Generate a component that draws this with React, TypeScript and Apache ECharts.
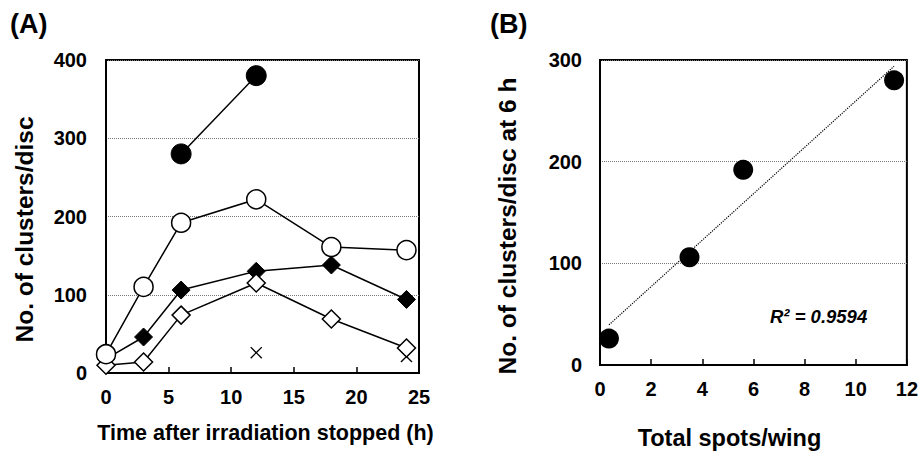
import React, { useEffect, useRef } from "react";
import * as echarts from "echarts";

// Panel A: time after irradiation stopped (h)
const hoursFilledCircle = [6, 12];
const valuesFilledCircle = [280, 380];
const hoursSeries = [0, 3, 6, 12, 18, 24];
const valuesOpenCircle = [24, 110, 192, 222, 161, 157];
const valuesFilledDiamond = [18, 46, 106, 130, 138, 94];
const valuesOpenDiamond = [10, 14, 74, 115, 69, 32];
const hoursCross = [12, 24];
const valuesCross = [26, 21];

// Panel B
const spotsPerWing = [0.35, 3.5, 5.6, 11.5];
const clustersAt6h = [26, 106, 192, 280];
const r2Label = "R\u00b2 = 0.9594";

const FONT = '"Liberation Sans", Arial, Helvetica, sans-serif';

const pairs = (xs: number[], ys: number[]) => xs.map((x, i) => [x, ys[i]]);

function regression(xs: number[], ys: number[]) {
  const n = xs.length;
  const mx = xs.reduce((a, b) => a + b, 0) / n;
  const my = ys.reduce((a, b) => a + b, 0) / n;
  let sxy = 0;
  let sxx = 0;
  for (let i = 0; i < n; i++) {
    sxy += (xs[i] - mx) * (ys[i] - my);
    sxx += (xs[i] - mx) * (xs[i] - mx);
  }
  const slope = sxy / sxx;
  const intercept = my - slope * mx;
  return { slope, intercept };
}

export default function App() {
  const ref = useRef<HTMLDivElement>(null);
  useEffect(() => {
    document.body.style.margin = "0";
    if (!ref.current) return;
    const chart = echarts.init(ref.current, undefined, { renderer: "svg" });
    const { slope, intercept } = regression(spotsPerWing, clustersAt6h);
    const xMin = Math.min(...spotsPerWing);
    const xMax = Math.max(...spotsPerWing);
    const trend = [
      [xMin, intercept + slope * xMin],
      [xMax, intercept + slope * xMax],
    ];

    const axisLine = { show: true, onZero: false, lineStyle: { color: "#000", width: 2 } };
    const tickLabel = { color: "#000", fontFamily: FONT, fontWeight: "bold" as const, fontSize: 20 };
    const nameStyle = (size: number, padding?: number[]) => ({
      color: "#000", fontFamily: FONT, fontWeight: "bold" as const, fontSize: size,
      ...(padding ? { padding } : {}),
    });
    const split = { show: true, lineStyle: { color: "#777", type: "dotted" as const, width: 1 } };
    const lineStyle = { color: "#000", width: 1.5 };

    chart.setOption({
      animation: false,
      backgroundColor: "#fff",
      grid: [
        { left: 106, top: 60, width: 313, height: 313, show: true, borderColor: "#000", borderWidth: 2, backgroundColor: "transparent" },
        { left: 600, top: 60, width: 308, height: 307, show: true, borderColor: "#000", borderWidth: 2, backgroundColor: "transparent" },
      ],
      xAxis: [
        {
          gridIndex: 0, type: "value", min: 0, max: 25, interval: 5,
          axisLine, axisTick: { show: true, inside: true, length: 6, lineStyle: { color: "#000", width: 1.5 } },
          axisLabel: { ...tickLabel, margin: 14 }, splitLine: { show: false },
          name: "Time after irradiation stopped (h)", nameLocation: "middle", nameGap: 49,
          nameTextStyle: nameStyle(21.5, [0, 0, 0, 6]),
        },
        {
          gridIndex: 1, type: "value", min: 0, max: 12, interval: 2,
          axisLine, axisTick: { show: true, inside: true, length: 6, lineStyle: { color: "#000", width: 1.5 } },
          axisLabel: { ...tickLabel, margin: 14 }, splitLine: { show: false },
          name: "Total spots/wing", nameLocation: "middle", nameGap: 61,
          nameTextStyle: nameStyle(23.5, [0, 48, 0, 0]),
        },
      ],
      yAxis: [
        {
          gridIndex: 0, type: "value", min: 0, max: 400, interval: 100,
          axisLine, axisTick: { show: false },
          axisLabel: { ...tickLabel, margin: 19 }, splitLine: split,
          name: "No. of clusters/disc", nameLocation: "middle", nameGap: 69,
          nameTextStyle: nameStyle(24.5, [0, 26, 0, 0]),
        },
        {
          gridIndex: 1, type: "value", min: 0, max: 300, interval: 100,
          axisLine, axisTick: { show: false },
          axisLabel: { ...tickLabel, margin: 18 }, splitLine: split,
          name: "No. of clusters/disc at 6 h", nameLocation: "middle", nameGap: 80,
          nameTextStyle: nameStyle(24.5, [0, 27, 0, 0]),
        },
      ],
      series: [
        {
          type: "scatter", xAxisIndex: 0, yAxisIndex: 0,
          data: pairs(hoursCross, valuesCross),
          symbol: "path://M0,0.8L0.8,0L5,4.2L9.2,0L10,0.8L5.8,5L10,9.2L9.2,10L5,5.8L0.8,10L0,9.2L4.2,5Z",
          symbolSize: 12, itemStyle: { color: "#000", opacity: 1 },
        },
        {
          type: "line", xAxisIndex: 0, yAxisIndex: 0,
          data: pairs(hoursFilledCircle, valuesFilledCircle),
          symbol: "circle", symbolSize: 20, lineStyle,
          itemStyle: { color: "#000", borderColor: "#000", borderWidth: 1 },
        },
        {
          type: "line", xAxisIndex: 0, yAxisIndex: 0,
          data: pairs(hoursSeries, valuesFilledDiamond),
          symbol: "diamond", symbolSize: 18, lineStyle,
          itemStyle: { color: "#000", borderColor: "#000", borderWidth: 1 },
        },
        {
          type: "line", xAxisIndex: 0, yAxisIndex: 0,
          data: pairs(hoursSeries, valuesOpenDiamond),
          symbol: "diamond", symbolSize: 18, lineStyle,
          itemStyle: { color: "#fff", borderColor: "#000", borderWidth: 1.5 },
        },
        {
          type: "line", xAxisIndex: 0, yAxisIndex: 0,
          data: pairs(hoursSeries, valuesOpenCircle),
          symbol: "circle", symbolSize: 19, lineStyle,
          itemStyle: { color: "#fff", borderColor: "#000", borderWidth: 1.5 },
        },
        {
          type: "line", xAxisIndex: 1, yAxisIndex: 1,
          data: trend, symbol: "none",
          lineStyle: { color: "#000", width: 1.2, type: "dotted" },
        },
        {
          type: "scatter", xAxisIndex: 1, yAxisIndex: 1,
          data: pairs(spotsPerWing, clustersAt6h),
          symbol: "circle", symbolSize: 20, itemStyle: { color: "#000", opacity: 1 },
        },
      ],
      graphic: [
        { type: "text", left: 10, top: 10, style: { text: "(A)", fill: "#000", font: `bold 27px ${FONT}` } },
        { type: "text", left: 490, top: 10, style: { text: "(B)", fill: "#000", font: `bold 27px ${FONT}` } },
        { type: "text", left: 770, top: 307, style: { text: r2Label, fill: "#000", font: `italic bold 18.5px ${FONT}` } },
      ],
    });
    return () => chart.dispose();
  }, []);
  return <div ref={ref} style={{ width: 921, height: 455, position: "absolute", left: 0, top: 0 }} />;
}
